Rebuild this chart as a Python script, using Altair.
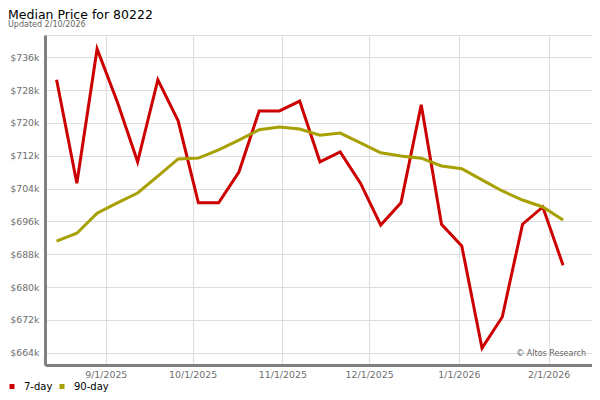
import altair as alt
import pandas as pd

title_text = "Median Price for 80222"
subtitle_text = "Updated 2/10/2026"
watermark_text = "\u00a9 Altos Research"

dates = [
    "2025-08-15", "2025-08-22", "2025-08-29", "2025-09-05", "2025-09-12",
    "2025-09-19", "2025-09-26", "2025-10-03", "2025-10-10", "2025-10-17",
    "2025-10-24", "2025-10-31", "2025-11-07", "2025-11-14", "2025-11-21",
    "2025-11-28", "2025-12-05", "2025-12-12", "2025-12-19", "2025-12-26",
    "2026-01-02", "2026-01-09", "2026-01-16", "2026-01-23", "2026-01-30",
    "2026-02-06",
]
seven_day = [730.5, 705.3, 738.0, 725.1, 710.5, 730.5, 720.5, 700.5, 700.5, 708.0,
             722.9, 722.9, 725.3, 710.5, 712.9, 705.3, 695.1, 700.5, 724.4, 695.3,
             690.0, 665.1, 672.7, 695.3, 699.5, 685.3]
ninety_day = [691.2, 693.1, 698.0, 700.5, 702.9, 707.0, 711.2, 711.4, 713.4, 715.8,
              718.3, 719.0, 718.5, 717.0, 717.5, 715.1, 712.7, 711.9, 711.4, 709.5,
              708.8, 706.1, 703.4, 701.2, 699.5, 696.3]
series_names = ["7-day", "90-day"]
series_colors = ["#cc0000", "#a8a000"]
y_ticks = [664000, 672000, 680000, 688000, 696000, 704000, 712000, 720000, 728000, 736000]
x_ticks = ["2025-09-01", "2025-10-01", "2025-11-01", "2025-12-01", "2026-01-01", "2026-02-01"]

rows = []
for d, a, b in zip(dates, seven_day, ninety_day):
    rows.append({"date": d + "T00:00:00", "series": series_names[0], "price": a * 1000})
    rows.append({"date": d + "T00:00:00", "series": series_names[1], "price": b * 1000})
df = pd.DataFrame(rows)

FONT = "DejaVu Sans"

def dt(s):
    y, m, d = s.split("-")
    return alt.DateTime(year=int(y), month=int(m), date=int(d))

x_enc = alt.X(
    "date:T",
    scale=alt.Scale(domain=[dt("2025-08-11"), dt("2026-02-16")]),
    axis=alt.Axis(
        title=None, values=[dt(s) for s in x_ticks], format="%-m/%-d/%Y",
        labelColor="#6e6e6e", labelFontSize=9.4, labelFont=FONT,
        domainColor="#808080", domainWidth=3, ticks=False, labelPadding=5,
        grid=True, gridColor="#dddddd", gridWidth=1, labelOverlap=False,
    ),
)
y_enc = alt.Y(
    "price:Q",
    scale=alt.Scale(domain=[661000, 741400], nice=False, zero=False),
    axis=alt.Axis(
        title=None, values=y_ticks,
        labelExpr="'$' + format(datum.value / 1000, 'd') + 'k'",
        labelColor="#6e6e6e", labelFontSize=9.4, labelFont=FONT,
        domainColor="#808080", domainWidth=3, ticks=False, labelPadding=6,
        grid=True, gridColor="#dddddd", gridWidth=1, labelOverlap=False,
    ),
)

lines = alt.Chart(df).mark_line(strokeWidth=3, interpolate="linear").encode(
    x=x_enc,
    y=y_enc,
    color=alt.Color(
        "series:N",
        scale=alt.Scale(domain=series_names, range=series_colors),
        legend=alt.Legend(
            title=None, orient="none", legendX=-38, legendY=346.5,
            direction="horizontal", columns=2, gridAlign="each",
            symbolType="square", symbolSize=4, symbolStrokeWidth=3,
            symbolOpacity=1,
            labelFontSize=10, labelFont=FONT, labelColor="#000000",
            labelOffset=7, columnPadding=2,
        ),
    ),
    order="date:T",
)

title_mark = alt.Chart(pd.DataFrame({"t": [title_text]})).mark_text(
    align="left", baseline="alphabetic", fontSize=12.5, font=FONT, color="#000000"
).encode(text="t:N", x=alt.value(-37), y=alt.value(-16.5))

subtitle_mark = alt.Chart(pd.DataFrame({"t": [subtitle_text]})).mark_text(
    align="left", baseline="alphabetic", fontSize=8, font=FONT, color="#666666"
).encode(text="t:N", x=alt.value(-37), y=alt.value(-8))

watermark = alt.Chart(pd.DataFrame({"t": [watermark_text]})).mark_text(
    align="right", baseline="alphabetic", fontSize=8, font=FONT, color="#666666"
).encode(text="t:N", x=alt.value(541), y=alt.value(321))

chart = alt.layer(lines, watermark, title_mark, subtitle_mark).properties(
    width=547, height=330,
    autosize=alt.AutoSizeParams(type="none"),
    padding={"left": 37, "top": 27, "right": 0, "bottom": 27},
).configure_view(stroke="#dddddd", strokeWidth=1).configure(background="white")

chart.save("out.html", embed_options={"renderer": "svg", "actions": False})
